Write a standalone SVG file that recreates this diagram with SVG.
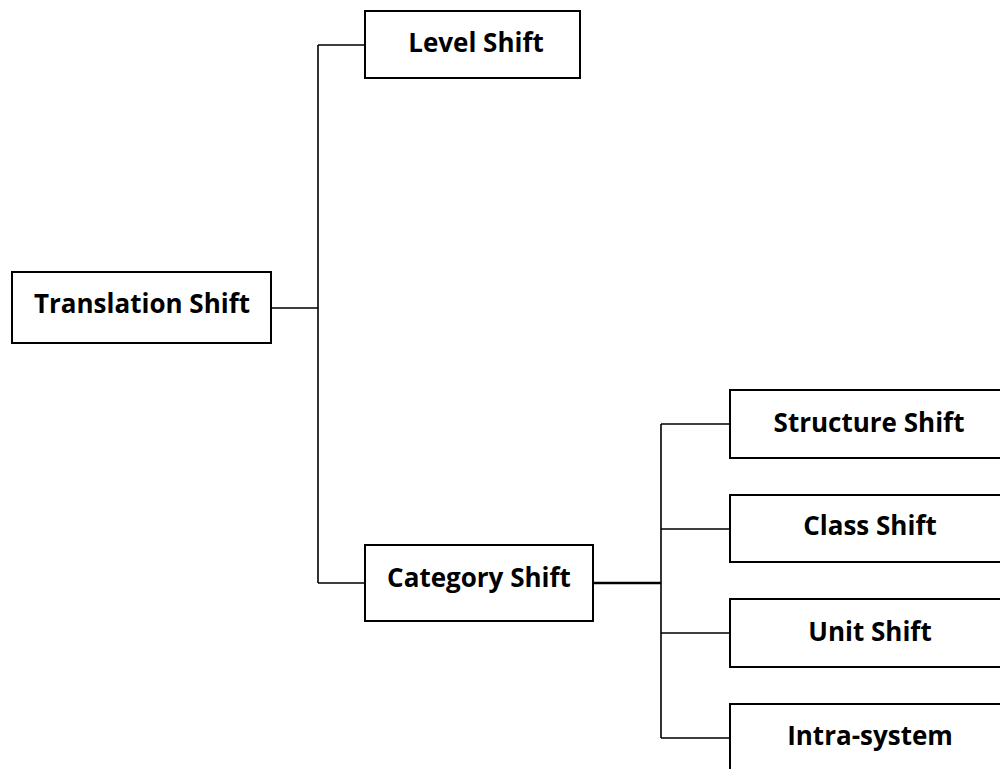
<svg xmlns="http://www.w3.org/2000/svg" width="1000" height="769" viewBox="0 0 1000 769">
<style>
.box{fill:#fff;stroke:#000;stroke-width:2}
.lbl{font-family:"Open Sans",Lato,sans-serif;font-weight:bold;font-size:26px;fill:#000;text-anchor:middle}
.ln{fill:none;stroke:#000;stroke-width:1.6}
</style>
<rect width="1000" height="769" fill="#fff"/>
<g id="connectors">
<path class="ln" d="M271,308 H318 M318,45 V583 M318,45 H365 M318,583 H365"/>
<path class="ln" style="stroke-width:2.4" d="M593,583 H661"/>
<path class="ln" d="M661,424 V738 M661,424 H730 M661,529 H730 M661,633 H730 M661,738 H730"/>
</g>
<g id="translation-shift"><rect class="box" x="12" y="272" width="259" height="71"/><text class="lbl" x="142" y="313">Translation Shift</text></g>
<g id="level-shift"><rect class="box" x="365" y="11" width="215" height="67"/><text class="lbl" x="476" y="52">Level Shift</text></g>
<g id="category-shift"><rect class="box" x="365" y="545" width="228" height="76"/><text class="lbl" x="479" y="587">Category Shift</text></g>
<g id="structure-shift"><rect class="box" x="730" y="390" width="290" height="68"/><text class="lbl" x="869" y="432">Structure Shift</text></g>
<g id="class-shift"><rect class="box" x="730" y="495" width="290" height="67"/><text class="lbl" x="870" y="535">Class Shift</text></g>
<g id="unit-shift"><rect class="box" x="730" y="599" width="290" height="68"/><text class="lbl" x="870" y="641">Unit Shift</text></g>
<g id="intra-system"><rect class="box" x="730" y="704" width="290" height="80"/><text class="lbl" x="870" y="745">Intra-system</text></g>
</svg>
